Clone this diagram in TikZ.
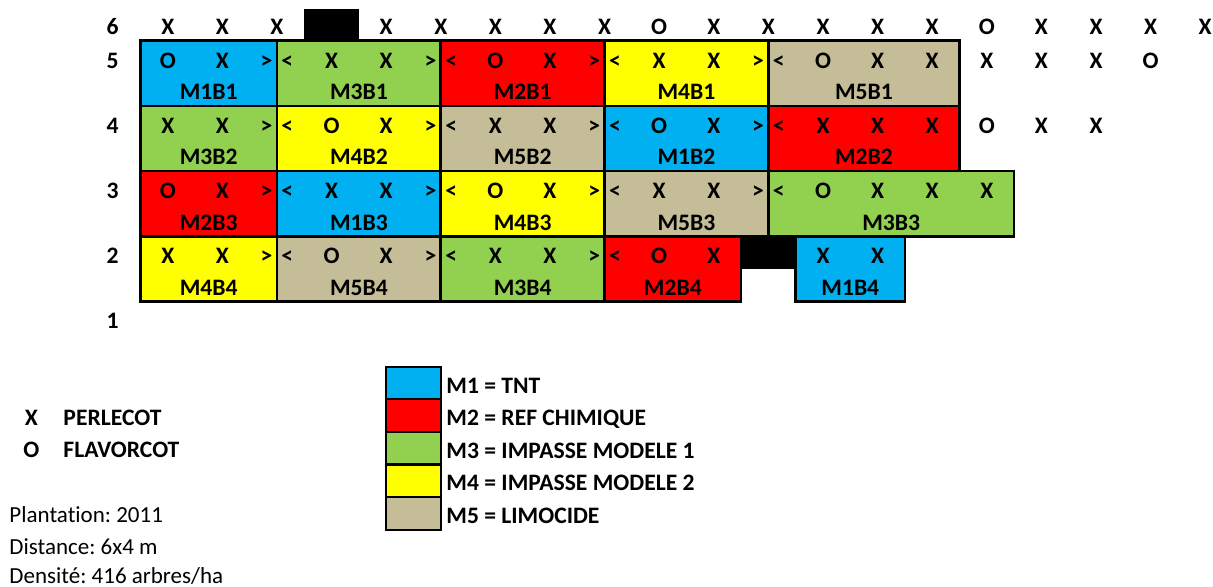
\documentclass[tikz,border=0pt]{standalone}
\usepackage{fontspec}
\setmainfont{Carlito}[Ligatures=NoCommon]
\frenchspacing
\definecolor{mblue}{HTML}{00B0F0}
\definecolor{mred}{HTML}{FF0000}
\definecolor{mgreen}{HTML}{92D050}
\definecolor{myellow}{HTML}{FFFF00}
\definecolor{mtan}{HTML}{C4BD97}
\begin{document}
\begin{tikzpicture}[x=54.6pt,y=-32.6pt,
  cell/.style={draw=black,line width=2.6pt},
  key/.style={draw=black,line width=2.2pt},
  txt/.style={inner sep=0pt,font=\fontsize{23.6}{27}\selectfont\bfseries,text height=15.2pt,text depth=0pt},
  plain/.style={inner sep=0pt,font=\fontsize{23}{26}\selectfont,text height=14.8pt,text depth=0pt},
]
\useasboundingbox (-2.573,-1.248) rectangle (19.643,16.758);

% plots: left/right/top row/colour/name
\foreach \xa/\xb/\b/\col/\lab in {
  0/2.5/0/mblue/M1B1, 2.5/5.5/0/mgreen/M3B1, 5.5/8.5/0/mred/M2B1, 8.5/11.5/0/myellow/M4B1, 11.5/15/0/mtan/M5B1,
  0/2.5/2/mgreen/M3B2, 2.5/5.5/2/myellow/M4B2, 5.5/8.5/2/mtan/M5B2, 8.5/11.5/2/mblue/M1B2, 11.5/15/2/mred/M2B2,
  0/2.5/4/mred/M2B3, 2.5/5.5/4/mblue/M1B3, 5.5/8.5/4/myellow/M4B3, 8.5/11.5/4/mtan/M5B3, 11.5/16/4/mgreen/M3B3,
  0/2.5/6/myellow/M4B4, 2.5/5.5/6/mtan/M5B4, 5.5/8.5/6/mgreen/M3B4, 8.5/11/6/mred/M2B4, 12/14/6/mblue/M1B4} {
  \draw[cell,fill=\col] (\xa,\b) rectangle (\xb,\b+2);
  \node[txt] (\lab) at ({(\xa+\xb)/2},\b+1.58) {\lab};
}

% missing trees
\fill[black] (3,-0.97) rectangle (4,0);
\fill[black] (11,6) rectangle (12,7);

% row numbers
\foreach \n/\y in {6/-0.42,5/0.61,4/2.61,3/4.61,2/6.61,1/8.6}
  \node[txt] (row\n) at (-0.51,\y) {\n};

% trees of each row
\foreach \c/\x [count=\i] in {X/0.5,X/1.5,X/2.5,X/4.5,X/5.5,X/6.5,X/7.5,X/8.5,O/9.5,X/10.5,X/11.5,X/12.5,X/13.5,X/14.5,O/15.5,X/16.5,X/17.5,X/18.5,X/19.5}
  \node[txt] (ra-\i) at (\x,-0.42) {\c};
\foreach \c/\x [count=\i] in {O/0.5,X/1.5,>/2.31,</2.69,X/3.5,X/4.5,>/5.31,</5.69,O/6.5,X/7.5,>/8.31,</8.69,X/9.5,X/10.5,>/11.31,</11.69,O/12.5,X/13.5,X/14.5,X/15.5,X/16.5,X/17.5,O/18.5}
  \node[txt] (rb-\i) at (\x,0.61) {\c};
\foreach \c/\x [count=\i] in {X/0.5,X/1.5,>/2.31,</2.69,O/3.5,X/4.5,>/5.31,</5.69,X/6.5,X/7.5,>/8.31,</8.69,O/9.5,X/10.5,>/11.31,</11.69,X/12.5,X/13.5,X/14.5,O/15.5,X/16.5,X/17.5}
  \node[txt] (rc-\i) at (\x,2.61) {\c};
\foreach \c/\x [count=\i] in {O/0.5,X/1.5,>/2.31,</2.69,X/3.5,X/4.5,>/5.31,</5.69,O/6.5,X/7.5,>/8.31,</8.69,X/9.5,X/10.5,>/11.31,</11.69,O/12.5,X/13.5,X/14.5,X/15.5}
  \node[txt] (rd-\i) at (\x,4.61) {\c};
\foreach \c/\x [count=\i] in {X/0.5,X/1.5,>/2.31,</2.69,O/3.5,X/4.5,>/5.31,</5.69,X/6.5,X/7.5,>/8.31,</8.69,O/9.5,X/10.5,X/12.5,X/13.5}
  \node[txt] (re-\i) at (\x,6.61) {\c};

% colour key
\foreach \col/\lab [count=\i] in {mblue/M1 = TNT,mred/M2 = REF CHIMIQUE,mgreen/M3 = IMPASSE MODELE 1,myellow/M4 = IMPASSE MODELE 2,mtan/M5 = LIMOCIDE} {
  \draw[key,fill=\col] (4.5,9+\i) rectangle (5.5,10+\i);
  \node[txt,anchor=west] (key\i) at (5.6,9.58+\i) {\lab};
}

% variety key
\node[txt] (kx) at (-2.0,11.58) {X};
\node[txt,anchor=west] (kxname) at (-1.414,11.58) {PERLECOT};
\node[txt] (ko) at (-2.0,12.55) {O};
\node[txt,anchor=west] (koname) at (-1.414,12.55) {FLAVORCOT};

% orchard data
\node[plain,anchor=west] (info1) at (-2.403,14.55) {Plantation: 2011};
\node[plain,anchor=west] (info2) at (-2.403,15.54) {Distance: 6x4 m};
\node[plain,anchor=west] (info3) at (-2.403,16.43) {Densité: 416 arbres/ha};
\end{tikzpicture}
\end{document}
